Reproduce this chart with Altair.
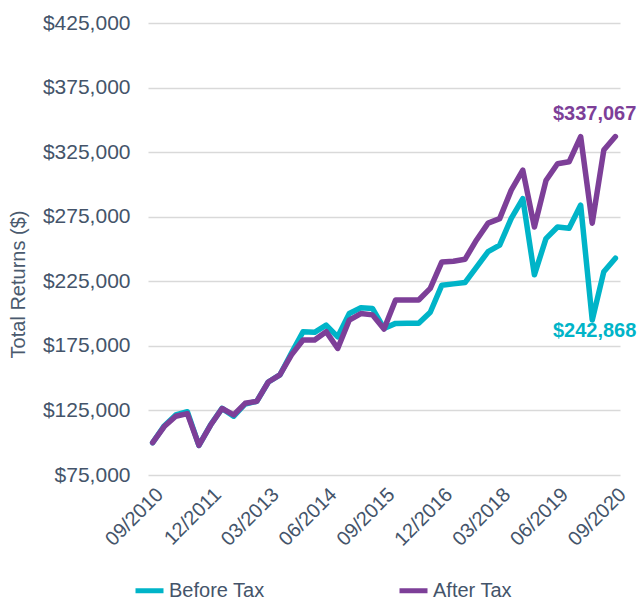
import altair as alt
import pandas as pd

dates = ["09/2010", "12/2010", "03/2011", "06/2011", "09/2011", "12/2011", "03/2012", "06/2012",
         "09/2012", "12/2012", "03/2013", "06/2013", "09/2013", "12/2013", "03/2014", "06/2014",
         "09/2014", "12/2014", "03/2015", "06/2015", "09/2015", "12/2015", "03/2016", "06/2016",
         "09/2016", "12/2016", "03/2017", "06/2017", "09/2017", "12/2017", "03/2018", "06/2018",
         "09/2018", "12/2018", "03/2019", "06/2019", "09/2019", "12/2019", "03/2020", "06/2020",
         "09/2020"]

before_tax = [100000, 113000, 121500, 124000, 98000, 113700, 126600, 120500, 130000, 132000,
              147000, 152500, 169500, 185900, 185500, 191000, 182000, 200000, 204500, 204000,
              188500, 192400, 192500, 192500, 201000, 222000, 223000, 224000, 236000, 248000,
              253000, 273700, 289000, 230000, 258000, 267000, 266000, 284000, 195000, 232400,
              242868]

after_tax = [100000, 112500, 120500, 122500, 98000, 113500, 126500, 121500, 130500, 132000,
             147000, 152500, 168000, 179500, 179500, 186000, 173000, 195000, 200000, 199000,
             188000, 210500, 210500, 210500, 219500, 240000, 240500, 242000, 257000, 270000,
             273500, 295600, 311000, 267000, 303000, 316000, 317500, 337000, 270000, 326600,
             337067]

series_names = ["Before Tax", "After Tax"]
series_colors = ["#00B4C8", "#7D3F98"]
x_tick_labels = ["09/2010", "12/2011", "03/2013", "06/2014", "09/2015", "12/2016",
                 "03/2018", "06/2019", "09/2020"]
y_ticks = [75000, 125000, 175000, 225000, 275000, 325000, 375000, 425000]
end_labels = ["$242,868", "$337,067"]

rows = []
for s, vals in zip(series_names, [before_tax, after_tax]):
    for d, v in zip(dates, vals):
        rows.append({"date": d, "series": s, "value": v})
df = pd.DataFrame(rows)

end_df = pd.DataFrame({
    "date": [dates[-1], dates[-1]],
    "series": series_names,
    "value": [before_tax[-1], after_tax[-1]],
    "label": end_labels,
})

FONT = "Liberation Sans"
TXT = "#44546A"

color_scale = alt.Scale(domain=series_names, range=series_colors)

x_enc = alt.X(
    "date:O",
    sort=dates,
    scale=alt.Scale(type="point", padding=0.4),
    axis=alt.Axis(
        values=x_tick_labels, labelAngle=-45, title=None, ticks=False, tickSize=0,
        domain=False, grid=False, labelFont=FONT, labelFontSize=20, labelColor=TXT,
        labelPadding=9,
    ),
)
y_enc = alt.Y(
    "value:Q",
    scale=alt.Scale(domain=[75000, 425000], nice=False, zero=False),
    axis=alt.Axis(
        values=y_ticks, format="$,.0f", title="Total Returns ($)", ticks=False, tickSize=0,
        domain=False, grid=True, gridColor="#D9D9D9", gridWidth=1.5,
        labelFont=FONT, labelFontSize=21, labelColor=TXT, labelPadding=18,
        titleFont=FONT, titleFontSize=20, titleFontWeight="normal", titleColor="#4A5A6E",
        titleX=-130, titleY=261, titleAngle=270, titleAlign="center", titleBaseline="middle",
    ),
)

lines = alt.Chart(df).mark_line(strokeWidth=5.5, strokeJoin="round", strokeCap="round").encode(
    x=x_enc,
    y=y_enc,
    color=alt.Color(
        "series:N", scale=color_scale,
        legend=alt.Legend(
            orient="none", legendX=-15, legendY=551, direction="horizontal", title=None,
            labelFont=FONT, labelFontSize=20, labelColor=TXT, symbolType="stroke",
            symbolStrokeWidth=5, symbolSize=784, columnPadding=124, labelOffset=3,
        ),
    ),
    detail="series:N",
)

text_before = alt.Chart(end_df).transform_filter(
    alt.datum.series == series_names[0]
).mark_text(align="right", baseline="middle", dx=21, dy=73, font=FONT, fontSize=20,
            fontWeight="bold").encode(
    x=alt.X("date:O", sort=dates),
    y=alt.Y("value:Q"),
    text="label:N",
    color=alt.Color("series:N", scale=color_scale, legend=None),
)

text_after = alt.Chart(end_df).transform_filter(
    alt.datum.series == series_names[1]
).mark_text(align="right", baseline="middle", dx=21, dy=-23, font=FONT, fontSize=20,
            fontWeight="bold").encode(
    x=alt.X("date:O", sort=dates),
    y=alt.Y("value:Q"),
    text="label:N",
    color=alt.Color("series:N", scale=color_scale, legend=None),
)

chart = alt.layer(lines, text_before, text_after).properties(
    width=472,
    height=452,
    autosize=alt.AutoSizeParams(type="none"),
    padding={"left": 148, "top": 23, "right": 21, "bottom": 126},
    background="white",
).configure_view(stroke=None)

chart.save("out.html", embed_options={"renderer": "svg", "actions": False})
